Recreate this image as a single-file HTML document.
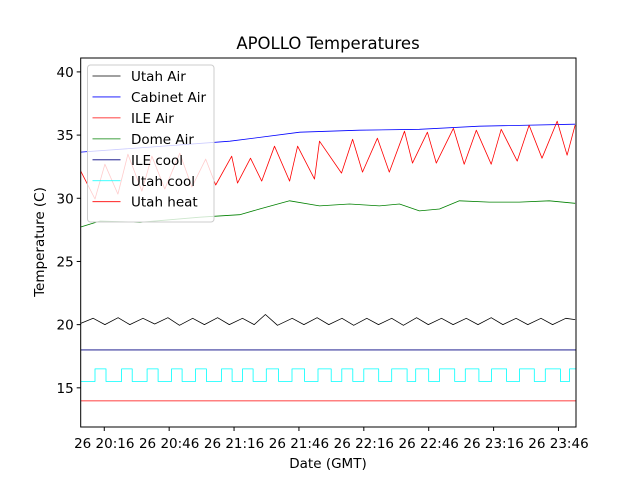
<!DOCTYPE html>
<html><head><meta charset="utf-8"><style>
body{margin:0;background:#fff}
svg{display:block;font-family:"DejaVu Sans","Liberation Sans",sans-serif}
</style></head><body>
<svg id="chart" width="640" height="480">
<rect width="640" height="480" fill="#fff"/>
<text x="328" y="49" font-size="16.5" text-anchor="middle">APOLLO Temperatures</text>
<text x="0" y="0" font-size="13.5" text-anchor="middle" transform="translate(44,242) rotate(-90)">Temperature (C)</text>
<text x="328" y="468" font-size="13.5" text-anchor="middle">Date (GMT)</text>
<g id="series"></g>
<g id="axes"></g>
<g id="legend"></g>
</svg>
<script>
// Data (time in minutes from ~20:05 GMT)
const yTicks=[15,20,25,30,35,40];
const xTickTimes=[10.9,40.9,70.9,100.9,130.9,160.9,190.9,220.9];
const xTickLabels=["26 20:16","26 20:46","26 21:16","26 21:46","26 22:16","26 22:46","26 23:16","26 23:46"];

const ileAirT=[0,6.6,11.2,17.2,21.8,28.3,32.9,38.9,45.8,51.4,57.8,62.4,69.8,72.5,78.5,83.7,89.6,96.6,100.3,108.1,110.4,120.6,125.7,130.3,137.2,142.7,149.7,153.4,160.3,164.4,172.3,177.3,182.9,189.8,194.4,201.8,207.3,213.3,220.3,224.9,228.6];
const ileAirV=[32.15,29.94,32.7,30.33,33.49,30.57,33.33,30.73,33.57,30.89,33.1,31.05,33.33,31.2,33.17,31.36,34.12,31.36,34.12,31.52,34.52,31.99,34.67,32.07,34.75,32.07,35.31,32.78,35.23,32.78,35.54,32.7,35.39,32.7,35.46,32.94,35.78,33.17,36.1,33.41,35.78];

const cabT=[0,32,69,101.3,128.9,156.6,184.3,228.6];
const cabV=[33.65,34.05,34.52,35.23,35.39,35.46,35.7,35.86];

const domeT=[0,9,27.4,55.1,73.5,82.7,96.6,110.4,124.3,138.1,147.4,156.6,165.9,175.1,188.9,202.8,216.6,228.6];
const domeV=[27.73,28.2,28.1,28.5,28.7,29.15,29.8,29.4,29.55,29.4,29.55,29.0,29.15,29.8,29.7,29.7,29.8,29.6];

const utahAirT=[0,5.8,11.2,17.3,22.7,28.8,34.2,40.3,45.7,51.8,57.2,63.3,68.7,74.8,80.2,85.4,91.0,97.8,103.2,109.3,114.7,120.8,126.2,132.3,137.7,143.8,149.2,155.3,160.7,166.8,172.2,178.3,183.7,189.8,195.2,201.3,206.7,212.8,218.2,224.3,228.6];
const utahAirV=[20.1,20.5,20.0,20.55,20.0,20.5,20.05,20.55,19.95,20.5,20.0,20.55,20.0,20.5,20.0,20.8,19.95,20.5,20.0,20.55,20.0,20.5,19.95,20.5,20.0,20.5,19.95,20.55,20.0,20.5,20.0,20.5,20.0,20.55,20.0,20.5,20.0,20.5,20.0,20.5,20.4];

const utahCoolToggles=[6.6,11.7,18.9,23.8,30.7,35.8,42.0,46.9,53.1,58.1,65.1,70.0,74.8,79.7,85.8,91.5,97.7,103.5,109.7,115.8,120.7,125.8,130.9,137.8,143.8,150.9,154.9,160.9,165.9,172.9,177.8,184.1,190.0,196.9,202.9,209.7,214.8,221.8,226.0];
const utahCoolLevels=[15.5,16.5];
const ileCoolV=[18.0];
const utahHeatV=[13.97];

const tMin=0,tMax=229,vMin=11.9,vMax=41.1;
const L=80.7,R=576,T=58,B=427;
function xs(t){return L+(t-tMin)/(tMax-tMin)*(R-L);}
function ys(v){return B-(v-vMin)/(vMax-vMin)*(B-T);}
const NS="http://www.w3.org/2000/svg";
const series=document.getElementById('series');
function path(d,color,name){
  const p=document.createElementNS(NS,'path');
  p.setAttribute('d',d);p.setAttribute('fill','none');p.setAttribute('stroke',color);
  p.setAttribute('stroke-width','0.8');p.setAttribute('stroke-linejoin','round');
  
  
  series.appendChild(p);
}
function lineD(ts,vs){return ts.map((t,i)=>(i?'L':'M')+xs(t).toFixed(1)+','+ys(vs[i]).toFixed(1)).join('');}
path(lineD(utahAirT,utahAirV),'#000','utah-air-line');
path(lineD(cabT,cabV),'#0000ff','cabinet-air-line');
path(lineD(ileAirT,ileAirV),'#ff0000','ile-air-line');
path(lineD(domeT,domeV),'#008000','dome-air-line');
path('M'+xs(tMin)+','+ys(ileCoolV[0])+'L'+xs(tMax)+','+ys(ileCoolV[0]),'#000080','ile-cool-line');
(function(){
  let lvl=0;let d='M'+xs(tMin)+','+ys(utahCoolLevels[0]);
  utahCoolToggles.forEach(t=>{d+='L'+xs(t).toFixed(1)+','+ys(utahCoolLevels[lvl]).toFixed(1);lvl=1-lvl;d+='L'+xs(t).toFixed(1)+','+ys(utahCoolLevels[lvl]).toFixed(1);});
  d+='L'+xs(tMax)+','+ys(utahCoolLevels[lvl]);
  path(d,'#00ffff','utah-cool-line');
})();
path('M'+xs(tMin)+','+ys(utahHeatV[0])+'L'+xs(tMax)+','+ys(utahHeatV[0]),'#ff0000','utah-heat-line');

const axes=document.getElementById('axes');
const frame=document.createElementNS(NS,'rect');
frame.setAttribute('x',L);frame.setAttribute('y',T);frame.setAttribute('width',R-L);frame.setAttribute('height',B-T);
frame.setAttribute('fill','none');frame.setAttribute('stroke','#000');frame.setAttribute('stroke-width','1');


axes.appendChild(frame);
yTicks.forEach(v=>{
  const y=ys(v);
  const ln=document.createElementNS(NS,'line');
  ln.setAttribute('x1',L-4);ln.setAttribute('x2',L);ln.setAttribute('y1',y);ln.setAttribute('y2',y);ln.setAttribute('stroke','#000');
  
  
  axes.appendChild(ln);
  const tx=document.createElementNS(NS,'text');
  tx.setAttribute('x',L-7);tx.setAttribute('y',y+5);tx.setAttribute('font-size','13.5');tx.setAttribute('text-anchor','end');
  tx.textContent=v;
  
  
  axes.appendChild(tx);
});
xTickTimes.forEach((t,i)=>{
  const x=xs(t);
  const ln=document.createElementNS(NS,'line');
  ln.setAttribute('x1',x);ln.setAttribute('x2',x);ln.setAttribute('y1',B);ln.setAttribute('y2',B+4);ln.setAttribute('stroke','#000');
  
  
  axes.appendChild(ln);
  const tx=document.createElementNS(NS,'text');
  tx.setAttribute('x',x);tx.setAttribute('y',B+21);tx.setAttribute('font-size','13.5');tx.setAttribute('text-anchor','middle');
  tx.textContent=xTickLabels[i];
  
  
  axes.appendChild(tx);
});

const legendNames=["Utah Air","Cabinet Air","ILE Air","Dome Air","ILE cool","Utah cool","Utah heat"];
const legendColors=["#000","#0000ff","#ff0000","#008000","#000080","#00ffff","#ff0000"];
const lg=document.getElementById('legend');
const box=document.createElementNS(NS,'rect');
box.setAttribute('x',87.5);box.setAttribute('y',65);box.setAttribute('width',126.5);box.setAttribute('height',157);box.setAttribute('rx',3);
box.setAttribute('fill','#fff');box.setAttribute('fill-opacity','0.8');box.setAttribute('stroke','#ccc');


lg.appendChild(box);
legendNames.forEach((n,i)=>{
  const y=76+i*20.95;
  const ln=document.createElementNS(NS,'line');
  ln.setAttribute('x1',92.5);ln.setAttribute('x2',120.5);ln.setAttribute('y1',y);ln.setAttribute('y2',y);
  ln.setAttribute('stroke',legendColors[i]);ln.setAttribute('stroke-width','0.8');
  
  
  lg.appendChild(ln);
  const tx=document.createElementNS(NS,'text');
  tx.setAttribute('x',131);tx.setAttribute('y',y+5);tx.setAttribute('font-size','13.5');
  tx.textContent=n;
  
  
  lg.appendChild(tx);
});
</script>
</body></html>
